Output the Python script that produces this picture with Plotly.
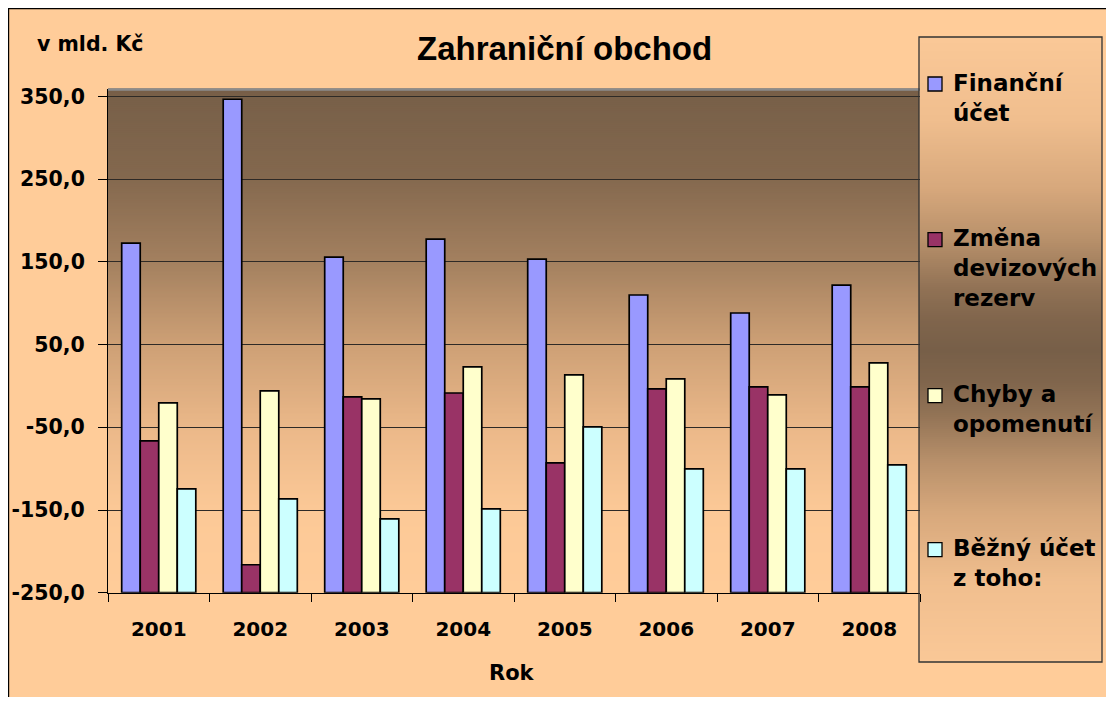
import plotly.graph_objects as go

# ---------------- data ----------------
years = ["2001", "2002", "2003", "2004", "2005", "2006", "2007", "2008"]
financni_ucet = [172.7, 346.7, 155.8, 177.6, 153.4, 110.0, 88.2, 122.0]
zmena_devizovych_rezerv = [-66.4, -216.2, -13.3, -8.5, -93.0, -3.6, -1.2, -1.2]
chyby_a_opomenuti = [-20.5, -6.0, -15.7, 23.0, 13.3, 8.5, -10.9, 27.8]
bezny_ucet = [-124.4, -136.5, -160.7, -148.6, -49.5, -100.3, -100.3, -95.4]
series_labels = ["Finanční<br>účet", "Změna<br>devizových<br>rezerv",
                 "Chyby a<br>opomenutí", "Běžný účet<br>z toho:"]
y_tick_values = [-250, -150, -50, 50, 150, 250, 350]
y_tick_labels = ["-250,0", "-150,0", "-50,0", "50,0", "150,0", "250,0", "350,0"]
title_text = "Zahraniční obchod"
unit_text = "v mld. Kč"
x_title_text = "Rok"

# ---------------- styles / layout constants ----------------
OFF = 8                      # page body margin
W, H = 1114 - 2 * OFF, 705 - 2 * OFF
Y_MIN, Y_MAX = -250, 359.7
PLOT_L, PLOT_R, PLOT_T, PLOT_B = 108, 920, 88.5, 592.7
LEG_L, LEG_R, LEG_T, LEG_B = 919, 1102, 37, 662
colors = ["#9999FF", "#993366", "#FFFFCC", "#CCFFFF"]
series_values = [financni_ucet, zmena_devizovych_rezerv, chyby_a_opomenuti, bezny_ucet]
SPACED = "DejaVu Sans"
ARIAL = "Liberation Sans, Arial, sans-serif"


def fx(x):
    return (x - OFF) / W


def fy(y):
    return 1 - (y - OFF) / H


def interp(stops, t):
    for (t0, c0), (t1, c1) in zip(stops[:-1], stops[1:]):
        if t0 <= t <= t1:
            u = 0 if t1 == t0 else (t - t0) / (t1 - t0)
            return "rgb(%d,%d,%d)" % tuple(round(a + (b - a) * u) for a, b in zip(c0, c1))
    return "rgb(%d,%d,%d)" % stops[-1][1]


plot_stops = [(0.0, (119, 95, 72)), (0.17, (131, 104, 78)), (0.34, (163, 128, 95)),
              (0.50, (204, 159, 117)), (0.67, (235, 184, 137)), (0.84, (252, 201, 151)),
              (1.0, (255, 204, 153))]
leg_half = [(0.0, (250, 200, 151)), (0.13, (240, 190, 142)), (0.24, (215, 168, 124)),
            (0.32, (185, 145, 107)), (0.40, (145, 114, 85)), (0.45, (128, 101, 76)),
            (0.5, (119, 95, 72))]
leg_stops = leg_half + [(1 - t, c) for t, c in reversed(leg_half[:-1])]

fig = go.Figure()

for vals, col in zip(series_values, colors):
    fig.add_trace(go.Bar(
        x=years,
        y=[v - Y_MIN for v in vals],
        base=Y_MIN,
        marker=dict(color=col, line=dict(color="black", width=1.7)),
        showlegend=False,
    ))

shapes = []
# chart area background + border
shapes.append(dict(type="rect", xref="paper", yref="paper", layer="below",
                   x0=fx(8.6), x1=fx(1114 + 20), y0=fy(8.6), y1=fy(705 + 20),
                   fillcolor="#FFCC99", line=dict(color="black", width=1.2)))
# plot-area gradient
step = 2
y = PLOT_T
while y < PLOT_B:
    t = (y - PLOT_T) / (PLOT_B - PLOT_T)
    shapes.append(dict(type="rect", xref="paper", yref="paper", layer="below",
                       x0=fx(PLOT_L), x1=fx(PLOT_R), y0=fy(y), y1=fy(min(y + step + 0.6, PLOT_B)),
                       fillcolor=interp(plot_stops, t), line=dict(width=0)))
    y += step
# legend gradient
y = LEG_T
while y < LEG_B:
    t = (y - LEG_T) / (LEG_B - LEG_T)
    shapes.append(dict(type="rect", xref="paper", yref="paper", layer="below",
                       x0=fx(LEG_L), x1=fx(LEG_R), y0=fy(y), y1=fy(min(y + step + 0.6, LEG_B)),
                       fillcolor=interp(leg_stops, t), line=dict(width=0)))
    y += step
# plot area grey top border
shapes.append(dict(type="line", xref="paper", yref="paper", layer="below",
                   x0=fx(PLOT_L), x1=fx(PLOT_R), y0=fy(89.5), y1=fy(89.5),
                   line=dict(color="#8C8C8C", width=2.5)))
# legend border
shapes.append(dict(type="rect", xref="paper", yref="paper", layer="above",
                   x0=fx(LEG_L), x1=fx(LEG_R), y0=fy(LEG_T), y1=fy(LEG_B),
                   line=dict(color="#333333", width=1.3)))

annotations = []
leg_baselines = [91, 246.7, 402.7, 556.7]
for lab, col, base in zip(series_labels, colors, leg_baselines):
    shapes.append(dict(type="rect", xref="paper", yref="paper", layer="above",
                       x0=fx(928), x1=fx(942), y0=fy(base - 14), y1=fy(base),
                       fillcolor=col, line=dict(color="black", width=1.3)))
    annotations.append(dict(text=lab, x=fx(951), y=fy(base - 23.5), xref="paper", yref="paper",
                            xanchor="left", yanchor="top", align="left", showarrow=False,
                            font=dict(family=SPACED, size=23, color="black", weight="bold")))

annotations.append(dict(text=title_text, x=fx(564), y=fy(28.5), xref="paper", yref="paper",
                        xanchor="center", yanchor="top", showarrow=False,
                        font=dict(family=ARIAL, size=33, color="black", weight="bold")))
annotations.append(dict(text=unit_text, x=fx(35), y=fy(30), xref="paper", yref="paper",
                        xanchor="left", yanchor="top", showarrow=False,
                        font=dict(family=SPACED, size=20.5, color="black", weight="bold")))
annotations.append(dict(text=x_title_text, x=fx(512), y=fy(659), xref="paper", yref="paper",
                        xanchor="center", yanchor="top", showarrow=False,
                        font=dict(family=SPACED, size=21, color="black", weight="bold")))

fig.update_layout(
    template="none",
    width=W, height=H,
    margin=dict(l=0, r=0, t=0, b=0),
    paper_bgcolor="#FFCC99",
    plot_bgcolor="rgba(0,0,0,0)",
    barmode="group", bargap=0.27, bargroupgap=0,
    shapes=shapes, annotations=annotations,
    xaxis=dict(domain=[fx(PLOT_L), fx(PLOT_R)], type="category",
               showline=True, linecolor="black", linewidth=1,
               ticks="outside", tickson="boundaries", ticklen=8, tickcolor="black",
               showgrid=False, ticklabelstandoff=18,
               tickfont=dict(family=SPACED, size=20, color="black", weight="bold")),
    yaxis=dict(domain=[fy(PLOT_B), fy(PLOT_T)], range=[Y_MIN, Y_MAX],
               tickvals=y_tick_values, ticktext=y_tick_labels,
               showline=True, linecolor="black", linewidth=1,
               ticks="outside", ticklen=9, tickcolor="black",
               showgrid=True, gridcolor="#2E2A26", gridwidth=1, zeroline=False,
               ticklabelstandoff=9,
               tickfont=dict(family=SPACED, size=20.5, color="black", weight="bold")),
)

fig.write_html("out.html")
